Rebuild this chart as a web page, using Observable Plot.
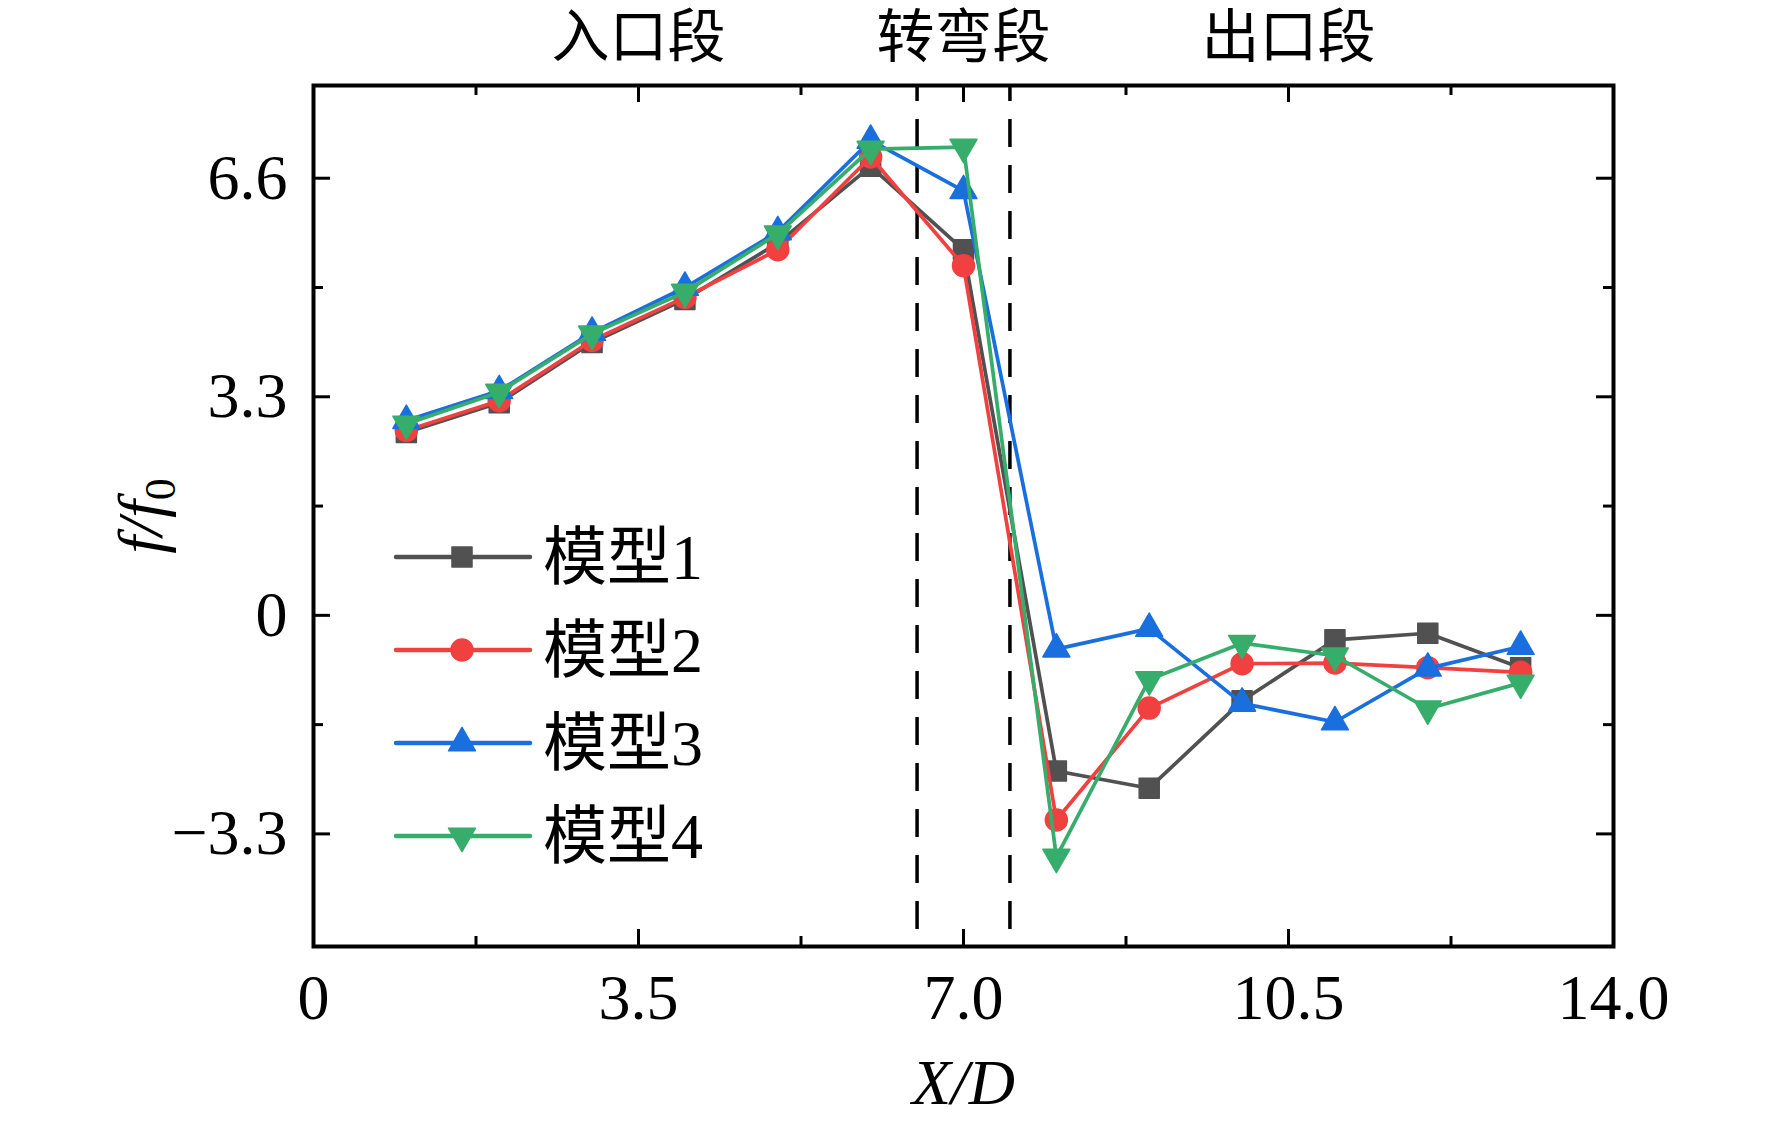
<!DOCTYPE html>
<html>
<head>
<meta charset="utf-8">
<script src="https://cdn.jsdelivr.net/npm/d3@7"></script>
<script src="https://cdn.jsdelivr.net/npm/@observablehq/plot@0.6"></script>
<style>
html, body { margin: 0; padding: 0; background: #fff; }
#wrap { position: relative; width: 1772px; height: 1126px; }
#legend { position: absolute; left: 0; top: 0; pointer-events: none; }
</style>
</head>
<body>
<div id="wrap"></div>
<script>
// ---- data ----
const xPos = [1, 2, 3, 4, 5, 6, 7, 8, 9, 10, 11, 12, 13];
const model1 = [2.76, 3.21, 4.12, 4.77, 5.62, 6.78, 5.52, -2.35, -2.61, -1.29, -0.37, -0.27, -0.79];
const model2 = [2.79, 3.24, 4.15, 4.80, 5.52, 6.92, 5.28, -3.09, -1.40, -0.73, -0.72, -0.79, -0.86];
const model3 = [2.94, 3.39, 4.27, 4.95, 5.79, 7.17, 6.41, -0.51, -0.20, -1.33, -1.61, -0.80, -0.47];
const model4 = [2.89, 3.37, 4.25, 4.88, 5.76, 7.04, 7.07, -3.65, -0.97, -0.42, -0.61, -1.41, -1.02];

const seriesNames = ["模型1", "模型2", "模型3", "模型4"];
const seriesColors = ["#515151", "#F14040", "#1A6FDF", "#37AD6B"];
const seriesSymbols = ["square", "circle", "triangle", "triangle"];
const seriesRotate = [0, 0, 0, 180];

const regionLabels = ["入口段", "转弯段", "出口段"];
const regionX = [3.5, 7.0, 10.5];
const dividerX = [6.5, 7.5];

const xTicksMajor = [0, 3.5, 7, 10.5, 14];
const xTickLabels = ["0", "3.5", "7.0", "10.5", "14.0"];
const xTicksMinor = [1.75, 5.25, 8.75, 12.25];
const yTicksMajor = [-3.3, 0, 3.3, 6.6];
const yTickLabels = ["\u22123.3", "0", "3.3", "6.6"];
const yTicksMinor = [-1.65, 1.65, 4.95];

const xLabel = "X/D";
const yLabel = "f/f0";

// ---- build ----
const allSeries = [model1, model2, model3, model4];
const rows = allSeries.flatMap((vals, i) => vals.map((v, j) => ({x: xPos[j], y: v, s: seriesNames[i]})));

const W = 1772, H = 1126;
const mL = 313, mR = 159, mT = 85, mB = 180;
const fw = W - mL - mR, fh = H - mT - mB;
const serif = "'Liberation Serif', 'Times New Roman', 'Noto Sans CJK SC', serif";
const symR = {square: 11.3, circle: 11, triangle: 10};

const seriesMarks = seriesNames.flatMap((name, i) => {
  const d = rows.filter(r => r.s === name);
  return [
    Plot.line(d, {x: "x", y: "y", stroke: seriesColors[i], strokeWidth: 3.7}),
    Plot.dot(d, {x: "x", y: "y", symbol: seriesSymbols[i], r: symR[seriesSymbols[i]],
      fill: seriesColors[i], stroke: seriesColors[i], strokeWidth: 1.5, strokeLinejoin: "round",
      rotate: seriesRotate[i]})
  ];
});

const chart = Plot.plot({
  width: W, height: H,
  marginLeft: mL, marginRight: mR, marginTop: mT, marginBottom: mB,
  x: {domain: [0, 14], axis: null},
  y: {domain: [-5, 8], axis: null},
  style: {fontFamily: serif, fontSize: "62px", color: "#000", background: "#fff", overflow: "visible"},
  marks: [
    Plot.ruleX(dividerX, {x: d => d, stroke: "#000", strokeWidth: 3.5, strokeDasharray: "28,18", strokeDashoffset: 12}),
    ...seriesMarks,
    // inward ticks: bottom / top
    Plot.tickX(xTicksMajor, {x: d => d, insetTop: fh - 17, strokeWidth: 3}),
    Plot.tickX(xTicksMajor, {x: d => d, insetBottom: fh - 17, strokeWidth: 3}),
    Plot.tickX(xTicksMinor, {x: d => d, insetTop: fh - 10, strokeWidth: 3}),
    Plot.tickX(xTicksMinor, {x: d => d, insetBottom: fh - 10, strokeWidth: 3}),
    // inward ticks: left / right
    Plot.tickY(yTicksMajor, {y: d => d, insetRight: fw - 17, strokeWidth: 3}),
    Plot.tickY(yTicksMajor, {y: d => d, insetLeft: fw - 17, strokeWidth: 3}),
    Plot.tickY(yTicksMinor, {y: d => d, insetRight: fw - 10, strokeWidth: 3}),
    Plot.tickY(yTicksMinor, {y: d => d, insetLeft: fw - 10, strokeWidth: 3}),
    Plot.frame({stroke: "#000", strokeWidth: 4}),
    Plot.axisX(xTicksMajor, {anchor: "bottom", tickSize: 0, tickPadding: 27, fontSize: 64,
      tickFormat: d => xTickLabels[xTicksMajor.indexOf(d)], label: null}),
    Plot.axisY(yTicksMajor, {anchor: "left", tickSize: 0, tickPadding: 26, fontSize: 64,
      tickFormat: d => yTickLabels[yTicksMajor.indexOf(d)], label: null}),
    Plot.text(regionLabels, {x: (d, i) => regionX[i], text: d => d, frameAnchor: "top", lineAnchor: "middle",
      dy: -47, fontSize: 58, fontFamily: serif}),
    Plot.text([xLabel], {text: d => d, frameAnchor: "bottom", lineAnchor: "middle", dy: 137,
      fontSize: 64, fontStyle: "italic"}),
    Plot.text([yLabel], {text: d => d, frameAnchor: "left", textAnchor: "middle", lineAnchor: "middle",
      dx: -172, rotate: -90, fontSize: 64, fontStyle: "italic"})
  ]
});

document.getElementById("wrap").appendChild(chart);

// y label with subscript
d3.select(chart).selectAll("text").filter(function() { return this.textContent === yLabel; })
  .each(function() {
    const t = d3.select(this);
    t.text(null);
    t.append("tspan").text("f/f");
    t.append("tspan").attr("font-style", "normal").attr("font-size", "44px").attr("dy", "0.3em").text("0");
  });

// legend overlay
const legendRowsY = [557, 650, 743, 836];
const lg = d3.select("#wrap").append("svg").attr("id", "legend").attr("width", W).attr("height", H);
seriesNames.forEach((name, i) => {
  const g = lg.append("g").attr("transform", `translate(0,${legendRowsY[i]})`);
  g.append("line").attr("x1", 396).attr("x2", 530).attr("y1", 0).attr("y2", 0)
    .attr("stroke", seriesColors[i]).attr("stroke-width", 4.5).attr("stroke-linecap", "round");
  const sym = {square: d3.symbolSquare, circle: d3.symbolCircle, triangle: d3.symbolTriangle}[seriesSymbols[i]];
  const r = symR[seriesSymbols[i]];
  g.append("path").attr("d", d3.symbol(sym, Math.PI * r * r)())
    .attr("transform", `translate(462,0) rotate(${seriesRotate[i]})`)
    .attr("fill", seriesColors[i]).attr("stroke", seriesColors[i]).attr("stroke-width", 1.5).attr("stroke-linejoin", "round");
  g.append("text").attr("x", 543).attr("y", 0).attr("dy", "0.34em")
    .attr("font-family", serif).attr("font-size", "64px").attr("fill", "#000").text(name);
});
</script>
</body>
</html>
